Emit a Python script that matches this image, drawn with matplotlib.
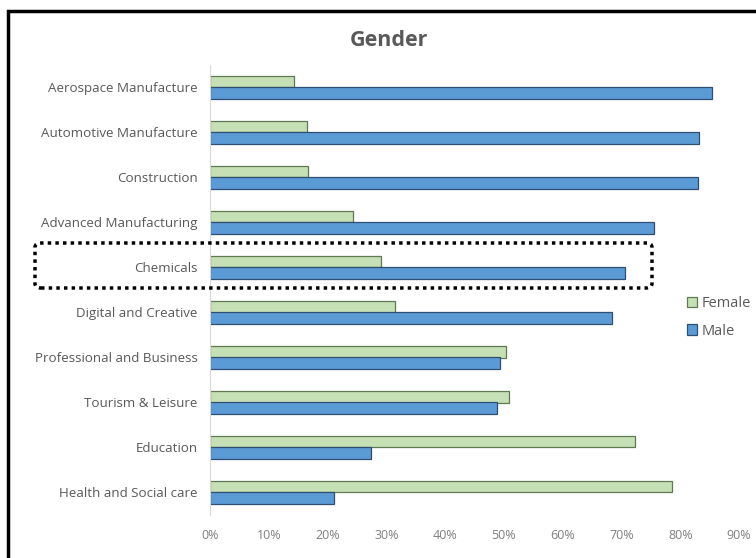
import numpy as np
import matplotlib.pyplot as plt
from matplotlib.patches import FancyBboxPatch, Rectangle
from matplotlib.ticker import FuncFormatter

sectors = ['Aerospace Manufacture', 'Automotive Manufacture', 'Construction',
           'Advanced Manufacturing', 'Chemicals', 'Digital and Creative',
           'Professional and Business', 'Tourism & Leisure', 'Education',
           'Health and Social care']
female = [14.3, 16.5, 16.7, 24.3, 29.1, 31.5, 50.3, 50.9, 72.3, 78.6]
male = [85.4, 83.2, 83.0, 75.5, 70.6, 68.4, 49.3, 48.8, 27.4, 21.1]
x_ticks = [0, 10, 20, 30, 40, 50, 60, 70, 80, 90]

plt.rcParams['font.family'] = ['Open Sans', 'DejaVu Sans']
grey = '#595959'

fig = plt.figure(figsize=(7.56, 5.58), dpi=100)
ax = fig.add_axes([210/756, 1 - 515/558, 529/756, 450/558])

y = np.arange(len(sectors))
h = 0.245
ax.barh(y - h/2, female, height=h, color='#C5E0B4', edgecolor='#5f7a52',
        linewidth=0.9, label='Female')
ax.barh(y + h/2, male, height=h, color='#5B9BD5', edgecolor='#2e4f73',
        linewidth=0.9, label='Male')

ax.set_ylim(len(sectors) - 0.5, -0.5)
ax.set_xlim(0, 90)
ax.set_yticks(y)
ax.set_yticklabels(sectors, fontsize=9.6, color=grey)
ax.set_xticks(x_ticks)
ax.xaxis.set_major_formatter(FuncFormatter(lambda v, p: f'{v:.0f}%'))
ax.tick_params(axis='x', length=0, pad=10, labelsize=9, labelcolor='#7f7f7f')
ax.tick_params(axis='y', length=0, pad=9)
for s in ['top', 'right', 'bottom']:
    ax.spines[s].set_visible(False)
ax.spines['left'].set_color('#d9d9d9')
ax.patch.set_alpha(0)

fig.text(389/756, 1 - 41/558, 'Gender', ha='center', va='center',
         fontsize=15.5, fontweight='bold', color=grey)

leg = fig.legend(loc='upper left', bbox_to_anchor=(674/756, 1 - 283/558),
                 frameon=False, fontsize=10.5, labelcolor=grey, handlelength=0.7,
                 handleheight=0.7, handletextpad=0.3, labelspacing=0.85)

# frame around the chart
fig.patches.append(Rectangle((8/756, -0.1), 1.1, 1 - 11/558 + 0.1,
                             transform=fig.transFigure, fill=False,
                             edgecolor='black', linewidth=2.5))

# dotted highlight around Chemicals
fig.patches.append(FancyBboxPatch((35/756, 1 - 288/558), 617/756, 45/558,
                                  boxstyle='round,pad=0,rounding_size=0.008',
                                  transform=fig.transFigure, fill=False,
                                  edgecolor='black', linewidth=2.5,
                                  linestyle=(0, (1, 1.2))))

plt.savefig('out.png', dpi=100)
